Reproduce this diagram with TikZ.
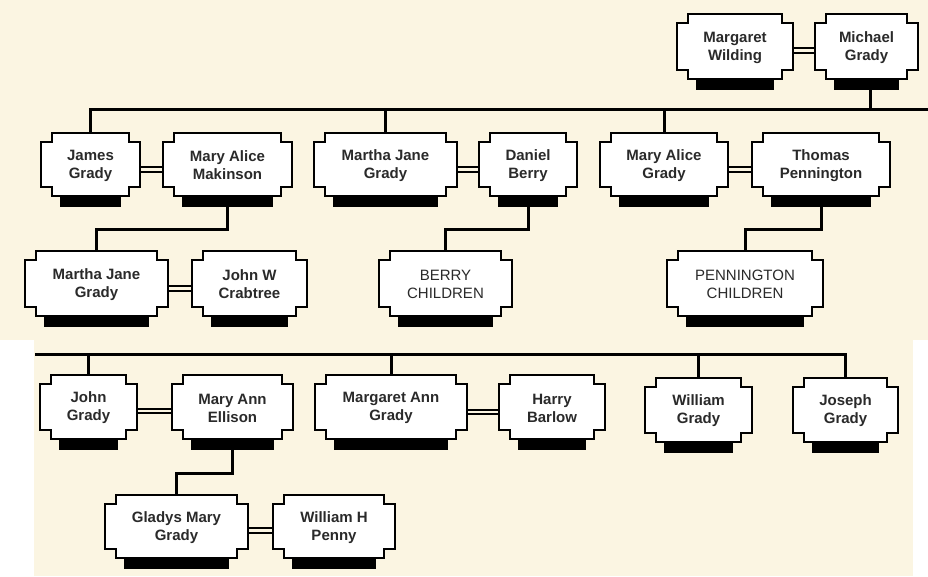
\documentclass[tikz,border=0pt]{standalone}
\usepackage{fontspec}
\setmainfont{Liberation Sans}
\usepackage{tikz}
\pgfdeclarelayer{back}
\pgfdeclarelayer{links}
\pgfsetlayers{back,links,main}
\definecolor{parchment}{HTML}{FBF5E2}
\definecolor{inkgrey}{HTML}{2A2A2A}

\tikzset{
  boxline/.style={draw=black, fill=white, line width=2.8pt},
  shadowbar/.style={fill=black},
  famtext/.style={inner sep=0pt, align=center, text=inkgrey,
    font=\fontsize{15}{18}\selectfont\bfseries},
  link/.style={draw=black, line width=3pt},
  spouse/.style={draw=black, line width=2pt, double=parchment, double distance=2.8pt},
}

% name, left, top, right, bottom, text
\newcommand{\famnode}[6]{%
  \fill[shadowbar] (#2+19,#5) rectangle (#4-19,#5+11);
  \draw[boxline] (#2,#3+9) -| (#2+11,#3) -| (#4-11,#3+9) -| (#4,#5-9)
    -| (#4-11,#5) -| (#2+11,#5-9) -| (#2,#3+9) -- cycle;
  \node[famtext, minimum width=#4-#2, minimum height=#5-#3] (#1)
    at ({(#2+#4)/2},{(#3+#5)/2+1}) {#6};
}

\begin{document}
\begin{tikzpicture}[x=1pt, y=-1pt]
\useasboundingbox (0,0) rectangle (928,576);
\begin{pgfonlayer}{back}
  \fill[white] (0,0) rectangle (928,576);
  \fill[parchment] (0,0) rectangle (928,340);
  \fill[parchment] (34,340) rectangle (913,576);
\end{pgfonlayer}

% parents
\famnode{mwild}{677}{14}{793}{79}{Margaret\\Wilding}
\famnode{mgrady}{815}{14}{918}{79}{Michael\\Grady}

% first row of children
\famnode{jgrady}{41}{133}{140}{196}{James\\Grady}
\famnode{makinson}{163}{133}{292}{196}{Mary Alice\\Makinson}
\famnode{mjgrady}{314}{133}{457}{196}{Martha Jane\\Grady}
\famnode{dberry}{479}{133}{577}{196}{Daniel\\Berry}
\famnode{magrady}{600}{133}{728}{196}{Mary Alice\\Grady}
\famnode{tpenn}{752}{133}{890}{196}{Thomas\\Pennington}

% grandchildren
\famnode{mjgrady2}{25}{251}{168}{316}{Martha Jane\\Grady}
\famnode{crabtree}{192}{251}{307}{316}{John W\\Crabtree}
\famnode{berrykids}{379}{251}{512}{316}{\mdseries BERRY\\\mdseries CHILDREN}
\famnode{pennkids}{667}{251}{823}{316}{\mdseries PENNINGTON\\\mdseries CHILDREN}

% second row of children
\famnode{johng}{40}{375}{137}{439}{John\\Grady}
\famnode{ellison}{172}{375}{293}{439}{Mary Ann\\Ellison}
\famnode{magrady2}{315}{375}{467}{439}{Margaret Ann\\Grady}
\famnode{hbarlow}{499}{375}{605}{439}{Harry\\Barlow}
\famnode{wgrady}{645}{378}{752}{442}{William\\Grady}
\famnode{josgrady}{793}{378}{898}{442}{Joseph\\Grady}

\famnode{gladys}{105}{495}{248}{558}{Gladys Mary\\Grady}
\famnode{wpenny}{273}{495}{395}{558}{William H\\Penny}

\begin{pgfonlayer}{links}
  \coordinate (bar1) at (928,109);
  \coordinate (bar2) at (35,354);
  % marriages
  \draw[spouse] ([yshift=-3pt]mwild.east) -- ([yshift=-3pt]mgrady.west);
  \draw[spouse] ([yshift=-4pt]jgrady.east) -- ([yshift=-4pt]makinson.west);
  \draw[spouse] ([yshift=-4pt]mjgrady.east) -- ([yshift=-4pt]dberry.west);
  \draw[spouse] ([yshift=-4pt]magrady.east) -- ([yshift=-4pt]tpenn.west);
  \draw[spouse] ([yshift=-4pt]mjgrady2.east) -- ([yshift=-4pt]crabtree.west);
  \draw[spouse] ([yshift=-3pt]johng.east) -- ([yshift=-3pt]ellison.west);
  \draw[spouse] ([yshift=-4pt]magrady2.east) -- ([yshift=-4pt]hbarlow.west);
  \draw[spouse] ([yshift=-3pt]gladys.east) -- ([yshift=-3pt]wpenny.west);
  % descent
  \draw[link] ([xshift=4pt]mgrady.south) -- ([xshift=4pt]mgrady.south |- bar1);
  \draw[link] (jgrady.north) |- (bar1);
  \draw[link] (mjgrady.north) -- (mjgrady.north |- bar1);
  \draw[link] (magrady.north) -- (magrady.north |- bar1);
  \draw[link] (makinson.south) -- +(0,32) -| (mjgrady2.north);
  \draw[link] (dberry.south) -- +(0,32) -| (berrykids.north);
  \draw[link] (tpenn.south) -- +(0,32) -| (pennkids.north);
  \draw[link] (bar2) -| (josgrady.north);
  \draw[link] (johng.north) -- (johng.north |- bar2);
  \draw[link] (magrady2.north) -- (magrady2.north |- bar2);
  \draw[link] (wgrady.north) -- (wgrady.north |- bar2);
  \draw[link] (ellison.south) -- +(0,33) -| (gladys.north);
\end{pgfonlayer}
\end{tikzpicture}
\end{document}
